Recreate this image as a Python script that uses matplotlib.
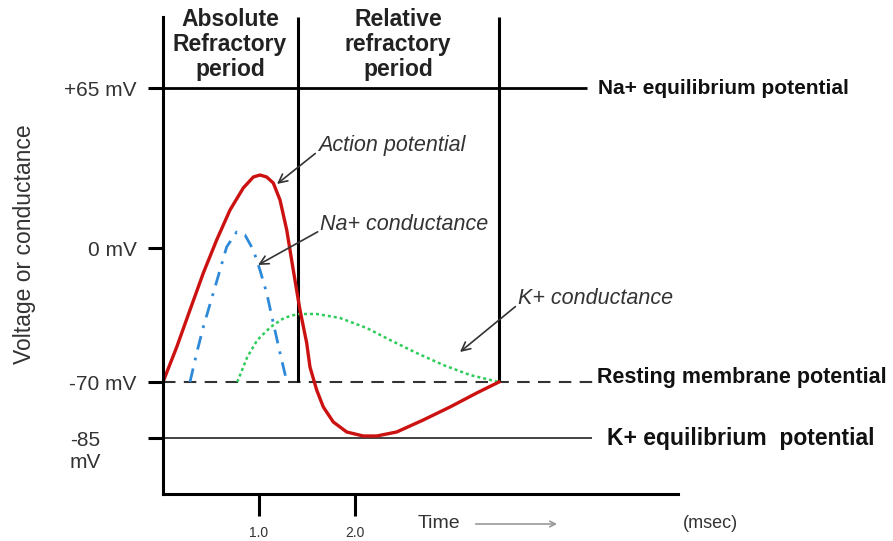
import matplotlib
matplotlib.use("Agg")
import matplotlib.pyplot as plt

plt.rcParams['font.family'] = ['Liberation Sans', 'DejaVu Sans']

# diagram levels (height units above the time axis)
na_eq = 406
zero_mv = 246
rest = 112
k_eq = 56
ytick_pos = [na_eq, zero_mv, rest, k_eq]
ytick_labels = ["+65 mV", "0 mV", "-70 mV", ""]

# period borders (msec)
arp_end = 1.41
rrp_end = 3.5

# action potential
ap_t = [0.0, 0.143, 0.281, 0.420, 0.559, 0.698, 0.836, 0.941, 1.010, 1.080, 1.149, 1.219,
        1.289, 1.357, 1.427, 1.497, 1.531, 1.601, 1.670, 1.774, 1.914, 2.086, 2.226,
        2.434, 2.711, 2.990, 3.268, 3.5]
ap_v = [112, 147, 184, 221, 254, 284, 306, 317, 319, 317, 311, 294,
        264, 224, 184, 151, 127, 104, 87, 72, 62, 58, 58,
        62, 74, 87, 101, 112]

# Na+ conductance
na_t = [0.281, 0.351, 0.420, 0.524, 0.594, 0.663, 0.767, 0.854, 0.941, 1.010, 1.080,
        1.149, 1.219, 1.281]
na_g = [112, 141, 167, 201, 224, 247, 262, 259, 244, 224, 201, 171, 141, 116]

# K+ conductance
k_t = [0.774, 0.878, 0.983, 1.121, 1.260, 1.399, 1.601, 1.844, 2.122, 2.365, 2.642,
       2.920, 3.198, 3.5]
k_g = [112, 137, 154, 167, 176, 180, 180, 176, 166, 154, 141, 129, 119, 112]

fig = plt.figure(figsize=(8.93, 5.41), dpi=100)
ax = fig.add_axes([163 / 893, 47 / 541, 515 / 893, 477 / 541])
ax.set_xlim(0, 5.365)
ax.set_ylim(0, 477)

for s in ["top", "right"]:
    ax.spines[s].set_visible(False)
for s in ["left", "bottom"]:
    ax.spines[s].set_linewidth(2.2)

ax.set_yticks(ytick_pos)
ax.set_yticklabels(ytick_labels, fontsize=15, color="#333333")
ax.set_xticks([1.0, 2.0])
ax.set_xticklabels(["1.0", "2.0"], fontsize=10, color="#333333")
ax.tick_params(axis="y", length=11, width=2.2, pad=8)
ax.tick_params(axis="x", length=16, width=2.2, pad=7)

# reference lines
ax.hlines(na_eq, 0, 4.417, color="black", lw=2.0, clip_on=False)
ax.hlines(rest, 0, 4.5, color="#333333", lw=1.5, linestyles=(0, (6, 4)), clip_on=False)
ax.hlines(k_eq, 0, 4.469, color="#222222", lw=1.2, clip_on=False)
ax.vlines([arp_end, rrp_end], rest, 477, color="black", lw=2.2, clip_on=False)

# curves
ax.plot(k_t, k_g, color="#2ecc5a", lw=1.8, ls=(0, (1.2, 1.2)))
ax.plot(na_t, na_g, color="#2e8ad8", lw=2.0, ls=(0, (5, 3, 1, 3)))
ax.plot(ap_t, ap_v, color="#cc1111", lw=2.4, solid_joinstyle="round")

# period headers
ax.text(0.698, 486, "Absolute\nRefractory\nperiod", ha="center", va="top",
        fontsize=16.5, fontweight="bold", color="#222222", linespacing=1.12, clip_on=False)
ax.text(2.448, 486, "Relative\nrefractory\nperiod", ha="center", va="top",
        fontsize=16.5, fontweight="bold", color="#222222", linespacing=1.12, clip_on=False)

# right side labels
ax.text(4.53, na_eq, "Na+ equilibrium potential", ha="left", va="center",
        fontsize=15, fontweight="bold", color="#111111", clip_on=False)
ax.text(4.52, rest + 4, "Resting membrane potential", ha="left", va="center",
        fontsize=15.5, fontweight="bold", color="#111111", clip_on=False)
ax.text(4.625, k_eq, "K+ equilibrium  potential", ha="left", va="center",
        fontsize=16.5, fontweight="bold", color="#111111", clip_on=False)

# -85 mV label
ax.text(-0.969, 42, "-85\nmV", ha="left", va="center", fontsize=15, color="#333333",
        linespacing=1.2, clip_on=False)

ax.text(-1.448, 250, "Voltage or conductance", rotation=90, ha="center", va="center",
        fontsize=16.5, color="#333333", clip_on=False)

# annotations
arrow = dict(arrowstyle="->", color="#333333", lw=1.2, shrinkA=0, shrinkB=0, relpos=(0.0, 0.2))
ax.annotate("Action potential", xy=(1.1875, 310), xytext=(1.615, 349),
            fontsize=15.5, style="italic", color="#333333", ha="left", va="center",
            arrowprops=arrow)
ax.annotate("Na+ conductance", xy=(0.99, 229), xytext=(1.64, 270),
            fontsize=15.5, style="italic", color="#333333", ha="left", va="center",
            arrowprops=arrow)
ax.annotate("K+ conductance", xy=(3.094, 142), xytext=(3.7, 196),
            fontsize=15.5, style="italic", color="#333333", ha="left", va="center",
            arrowprops=arrow)

# time axis caption
ax.text(2.656, -30, "Time", ha="left", va="center", fontsize=14, color="#333333", clip_on=False)
ax.annotate("", xy=(4.135, -30), xytext=(3.229, -30), annotation_clip=False,
            arrowprops=dict(arrowstyle="->", color="#999999", lw=1.2))
ax.text(5.417, -30, "(msec)", ha="left", va="center", fontsize=13, color="#333333", clip_on=False)

fig.savefig("out.png", dpi=100)
